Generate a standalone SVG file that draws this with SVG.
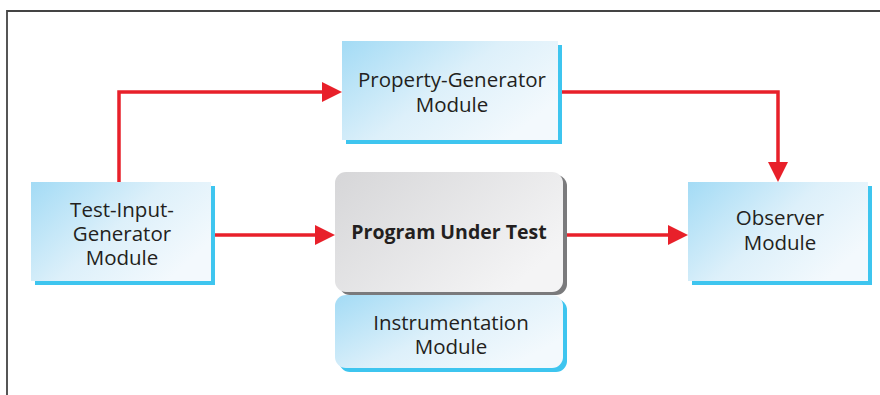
<svg xmlns="http://www.w3.org/2000/svg" width="880" height="395" viewBox="0 0 880 395">
<defs>
<linearGradient id="blue" x1="0" y1="0" x2="1" y2="0.6">
<stop offset="0" stop-color="#a3dbf5"/>
<stop offset="0.55" stop-color="#ddf0fa"/>
<stop offset="1" stop-color="#f3f9fd"/>
</linearGradient>
<linearGradient id="gray" x1="0" y1="0" x2="1" y2="0.6">
<stop offset="0" stop-color="#d6d6d8"/>
<stop offset="1" stop-color="#f4f4f5"/>
</linearGradient>
<style>
.t{font-family:"Open Sans","Noto Sans","Liberation Sans",sans-serif;font-size:20.5px;fill:#231f20;text-anchor:middle}
.b{font-weight:bold;font-size:19.5px}
.sh{fill:#3ec5ef}
.bx{fill:url(#blue)}
.ln{fill:none;stroke:#e8202a;stroke-width:3.5}
.ah{fill:#e8202a}
</style>
</defs>
<path d="M7,395 V11 H880" fill="none" stroke="#444" stroke-width="1.8"/>
<g id="connectors">
<path class="ln" d="M119,182 V92 H325"/>
<polygon class="ah" points="342,92 322,82 322,102"/>
<path class="ln" d="M561,92 H778 V165"/>
<polygon class="ah" points="778,182 768,162 788,162"/>
<path class="ln" d="M215,235 H318"/>
<polygon class="ah" points="335,235 315,225 315,245"/>
<path class="ln" d="M567,235 H671"/>
<polygon class="ah" points="688,235 668,225 668,245"/>
</g>
<g id="property-generator">
<rect class="sh" x="346" y="45" width="216" height="99"/>
<rect class="bx" x="342" y="41" width="216" height="99"/>
<text class="t" x="452" y="87">Property-Generator</text>
<text class="t" x="452" y="112">Module</text>
</g>
<g id="test-input-generator">
<rect class="sh" x="35" y="186" width="180" height="99"/>
<rect class="bx" x="31" y="182" width="180" height="99"/>
<text class="t" x="122" y="217">Test-Input-</text>
<text class="t" x="122" y="241">Generator</text>
<text class="t" x="122" y="265">Module</text>
</g>
<g id="observer">
<rect class="sh" x="692" y="186" width="180" height="99"/>
<rect class="bx" x="688" y="182" width="180" height="99"/>
<text class="t" x="780" y="225">Observer</text>
<text class="t" x="780" y="250">Module</text>
</g>
<g id="program-under-test">
<rect x="339" y="175" width="228" height="120" rx="11" fill="#7a7a7c"/>
<rect x="335" y="172" width="228" height="120" rx="11" fill="url(#gray)"/>
<text class="t b" x="449" y="239">Program Under Test</text>
</g>
<g id="instrumentation">
<rect class="sh" x="339" y="299" width="228" height="73" rx="11"/>
<rect class="bx" x="335" y="295" width="228" height="73" rx="11"/>
<text class="t" x="451" y="330">Instrumentation</text>
<text class="t" x="451" y="354">Module</text>
</g>
</svg>
